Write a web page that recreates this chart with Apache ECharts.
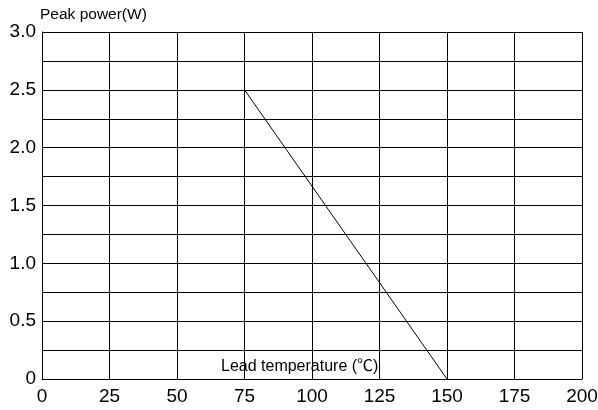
<!DOCTYPE html>
<html>
<head>
<meta charset="utf-8">
<script src="https://cdn.jsdelivr.net/npm/echarts@6/dist/echarts.min.js"></script>
<style>
html,body{margin:0;padding:0;background:#fff;}
#chart{width:598px;height:410px;}
</style>
</head>
<body>
<div id="chart"></div>
<script>
// Data
var temperature = [75, 150];          // Lead temperature (℃)
var peakPower = [2.5, 0];             // Peak power (W)
var xTicks = [0, 25, 50, 75, 100, 125, 150, 175, 200];
var yTickLabels = ['0', '0.5', '1.0', '1.5', '2.0', '2.5', '3.0'];
var yAxisTitle = 'Peak power(W)';
var xAxisTitle = 'Lead temperature (℃)';

var FONT = '"Liberation Sans", Arial, "Noto Sans CJK SC", sans-serif';
var chart = echarts.init(document.getElementById('chart'), null, {renderer: 'canvas'});
var points = temperature.map(function (t, i) { return [t, peakPower[i]]; });

chart.setOption({
  animation: false,
  backgroundColor: '#fff',
  grid: {left: 42, right: 16, top: 32, bottom: 31, containLabel: false, outerBoundsMode: 'none'},
  title: [
    {text: yAxisTitle, left: 40, top: 7, padding: 0, textStyle: {fontFamily: FONT, fontSize: 15.5, fontWeight: 'normal', color: '#000'}},
    {text: xAxisTitle, left: 221, top: 359, padding: 0, textStyle: {fontFamily: FONT, fontSize: 16, fontWeight: 'normal', color: '#000'}}
  ],
  xAxis: {
    type: 'value',
    min: xTicks[0],
    max: xTicks[xTicks.length - 1],
    interval: 25,
    axisLine: {show: true, onZero: false, lineStyle: {color: '#000', width: 1}},
    axisTick: {show: false},
    splitLine: {show: true, lineStyle: {color: '#000', width: 1}},
    axisLabel: {fontFamily: FONT, fontSize: 19, color: '#000', margin: 8,
      formatter: function (v) { return String(v); }}
  },
  yAxis: {
    type: 'value',
    min: 0,
    max: 3,
    interval: 0.25,
    axisLine: {show: true, onZero: false, lineStyle: {color: '#000', width: 1}},
    axisTick: {show: false},
    splitLine: {show: true, lineStyle: {color: '#000', width: 1}},
    axisLabel: {fontFamily: FONT, fontSize: 19, color: '#000', margin: 6,
      formatter: function (v) {
        var idx = Math.round(v / 0.5);
        if (Math.abs(v - idx * 0.5) > 1e-6) return '';
        return yTickLabels[idx] || '';
      }}
  },
  series: [{
    type: 'line',
    data: points,
    symbol: 'none',
    lineStyle: {color: '#000', width: 1}
  }]
});
</script>
</body>
</html>
